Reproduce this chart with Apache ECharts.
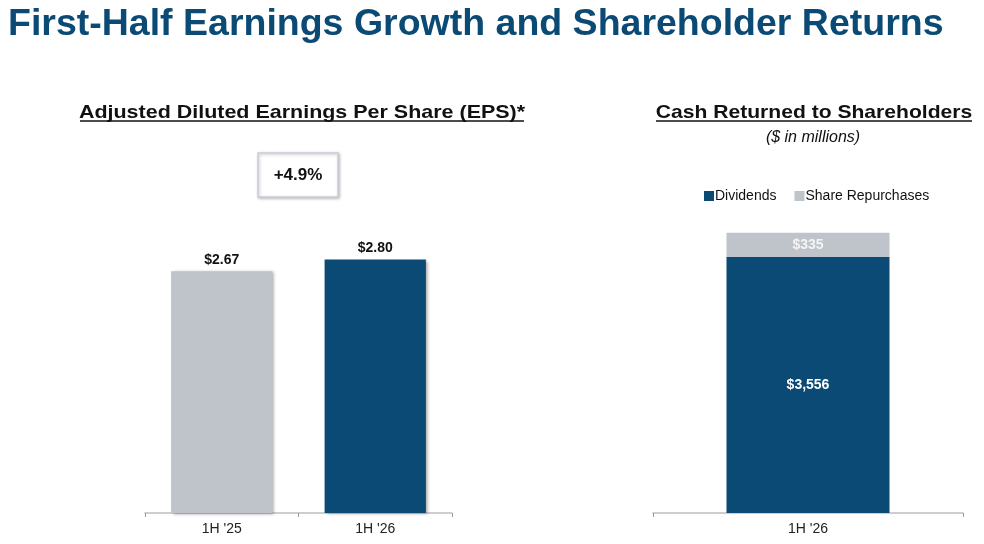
<!DOCTYPE html>
<html>
<head>
<meta charset="utf-8">
<script src="https://cdn.jsdelivr.net/npm/echarts@6/dist/echarts.min.js"></script>
<style>
  html, body { margin: 0; padding: 0; background: #fff; }
  #chart { width: 984px; height: 544px; }
</style>
</head>
<body>
<div id="chart"></div>
<script>
// EPS chart
const epsCategories = ["1H '25", "1H '26"]
const epsValues = [2.67, 2.80]
const epsGrowth = '+4.9%'

// cash returned chart ($ in millions)
const cashCategories = ["1H '26"]
const dividends = [3556]
const repurchases = [335]

const BLUE = '#0B4A75'
const GRAY = '#BEC4CA'
const FONT = 'Liberation Sans'

const chart = echarts.init(document.getElementById('chart'))

const barShadow = {
    shadowColor: 'rgba(0,0,0,0.35)',
    shadowBlur: 3,
    shadowOffsetX: 2,
    shadowOffsetY: 1
}

const catAxis = (gridIndex, data) => ({
    type: 'category',
    gridIndex: gridIndex,
    data: data,
    axisLine: { lineStyle: { color: '#BFBFBF', width: 1.5 } },
    axisTick: { show: true, length: 4, lineStyle: { color: '#9A9A9A' } },
    axisLabel: { color: '#222', fontFamily: FONT, fontSize: 14, margin: 9 }
})

const valAxis = (gridIndex, max) => ({
    type: 'value',
    gridIndex: gridIndex,
    min: 0,
    max: max,
    show: false,
    splitLine: { show: false }
})

// text helper for the headings (the source renders them a bit wide)
const heading = (text, x, y, font, stretch, fill) => ({
    type: 'text',
    x: x, y: y,
    scaleX: stretch,
    style: { text: text, fill: fill || '#111', font: font, align: 'center', verticalAlign: 'middle' }
})

chart.setOption({
    animation: false,
    textStyle: { fontFamily: FONT },
    legend: {
        data: ['Dividends', 'Share Repurchases'],
        left: 699,
        top: 184,
        itemWidth: 10,
        itemHeight: 10,
        itemGap: 18,
        icon: 'rect',
        textStyle: { color: '#111', fontSize: 14, fontFamily: FONT, padding: [0, 0, 0, -4] }
    },
    grid: [
        { left: 145, width: 307, top: 151, bottom: 31 },
        { left: 653, width: 310, top: 153, bottom: 31 }
    ],
    xAxis: [catAxis(0, epsCategories), catAxis(1, cashCategories)],
    yAxis: [valAxis(0, 4), valAxis(1, 5000)],
    series: [{
        type: 'bar',
        xAxisIndex: 0,
        yAxisIndex: 0,
        data: epsValues,
        barWidth: '66%',
        itemStyle: Object.assign({
            color: (p) => p.dataIndex === 0 ? GRAY : BLUE
        }, barShadow),
        label: {
            show: true,
            position: 'top',
            distance: 4,
            color: '#111',
            fontWeight: 'bold',
            fontSize: 14,
            fontFamily: FONT,
            formatter: (p) => '$' + p.value.toFixed(2)
        }
    }, {
        name: 'Dividends',
        type: 'bar',
        stack: 'cash',
        xAxisIndex: 1,
        yAxisIndex: 1,
        data: dividends,
        barWidth: 163,
        itemStyle: { color: BLUE },
        label: {
            show: true,
            position: 'inside',
            color: '#fff',
            fontWeight: 'bold',
            fontSize: 14,
            fontFamily: FONT,
            formatter: (p) => '$' + p.value.toLocaleString('en-US')
        }
    }, {
        name: 'Share Repurchases',
        type: 'bar',
        stack: 'cash',
        xAxisIndex: 1,
        yAxisIndex: 1,
        data: repurchases,
        barWidth: 163,
        itemStyle: { color: GRAY },
        label: {
            show: true,
            position: 'inside',
            color: '#F4F4F4',
            fontWeight: 'bold',
            fontSize: 14,
            fontFamily: FONT,
            formatter: (p) => '$' + p.value.toLocaleString('en-US')
        }
    }],
    graphic: [
        {
            type: 'text',
            x: 8, y: 25,
            style: {
                text: 'First-Half Earnings Growth and Shareholder Returns',
                fill: BLUE, font: 'bold 37.5px "Liberation Sans"', align: 'left', verticalAlign: 'middle'
            }
        },
        heading('Adjusted Diluted Earnings Per Share (EPS)*', 302, 112.5, 'bold 19px "Liberation Sans"', 1.13),
        heading('Cash Returned to Shareholders', 814, 112.5, 'bold 19px "Liberation Sans"', 1.11),
        heading('($ in millions)', 813, 137.5, 'italic 16px "Liberation Sans"', 1),
        // underlines for the two chart titles
        { type: 'line', shape: { x1: 80, y1: 121, x2: 524, y2: 121 }, style: { stroke: '#111', lineWidth: 1.5 } },
        { type: 'line', shape: { x1: 656, y1: 121, x2: 972, y2: 121 }, style: { stroke: '#111', lineWidth: 1.5 } },
        // growth callout
        {
            type: 'rect',
            shape: { x: 258, y: 153, width: 80, height: 44 },
            style: {
                fill: '#fff', stroke: '#C9D0DA', lineWidth: 1.5,
                shadowColor: 'rgba(0,0,0,0.25)', shadowBlur: 3, shadowOffsetX: 1, shadowOffsetY: 1
            }
        },
        heading(epsGrowth, 298, 175, 'bold 17px "Liberation Sans"', 1)
    ]
})
</script>
</body>
</html>
